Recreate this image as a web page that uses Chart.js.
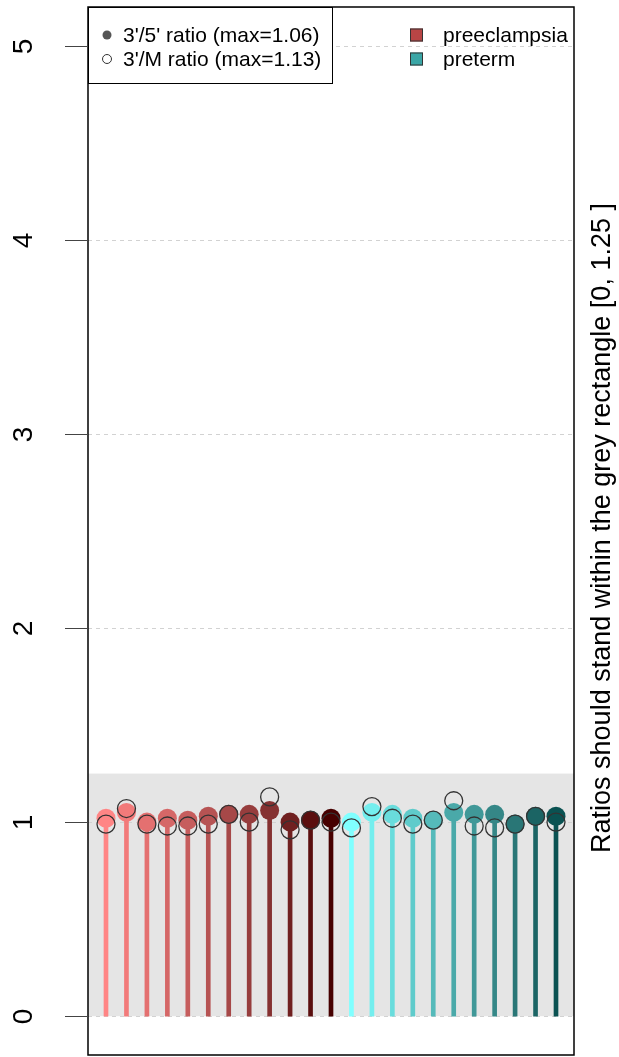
<!DOCTYPE html>
<html lang="en">
<head>
  <meta charset="UTF-8" />
  <title>Ratios</title>
  <script src="https://cdn.jsdelivr.net/npm/chart.js"></script>
  <style>
    body { margin: 0; padding: 0; background: #ffffff; }
    canvas { display: block; }
  </style>
</head>
<body>
  <canvas id="ratioChart" width="619" height="1057"></canvas>

  <script>
    // data
    const groups = ['preeclampsia', 'preeclampsia', 'preeclampsia', 'preeclampsia', 'preeclampsia', 'preeclampsia',
                    'preeclampsia', 'preeclampsia', 'preeclampsia', 'preeclampsia', 'preeclampsia', 'preeclampsia',
                    'preterm', 'preterm', 'preterm', 'preterm', 'preterm', 'preterm',
                    'preterm', 'preterm', 'preterm', 'preterm', 'preterm'];
    const ratio35 = [1.02, 1.05, 1.00, 1.02, 1.01, 1.03, 1.04, 1.04, 1.06, 1.00, 1.01, 1.02,
                     1.00, 1.05, 1.04, 1.02, 1.01, 1.05, 1.04, 1.04, 0.99, 1.03, 1.03];
    const ratioM  = [0.99, 1.07, 0.99, 0.98, 0.98, 0.99, 1.04, 1.00, 1.13, 0.96, 1.01, 1.00,
                     0.97, 1.08, 1.02, 0.99, 1.01, 1.11, 0.98, 0.97, 0.99, 1.03, 1.00];
    const yTicks = [0, 1, 2, 3, 4, 5];
    const rectTop = 1.25;

    // colours
    const redRamp = ['#ff8585', '#f27a7a', '#e47070', '#d56767', '#c65d5d', '#b65353',
                     '#a64848', '#963d3d', '#853131', '#702020', '#5b0f0f', '#470000'];
    const tealRamp = ['#80ffff', '#74eeee', '#69dcdc', '#5fcbcb', '#55baba', '#4aa9a9',
                      '#409898', '#358787', '#297676', '#1b6464', '#0a5252'];
    const groupColor = { preeclampsia: '#b84545', preterm: '#3aa6a6' };
    const font = '"Liberation Sans", Arial, sans-serif';

    let ri = 0, ti = 0;
    const colors = groups.map(g => g === 'preeclampsia' ? redRamp[ri++] : tealRamp[ti++]);

    const idx = ratio35.map((v, i) => i + 1);

    const deco = {
      id: 'deco',
      beforeDatasetsDraw(chart) {
        const { ctx, chartArea: a, scales: { y } } = chart;
        ctx.save();
        const top = y.getPixelForValue(rectTop), bot = y.getPixelForValue(0);
        ctx.fillStyle = '#e5e5e5';
        ctx.fillRect(a.left, top, a.right - a.left, bot - top);
        ctx.strokeStyle = '#d2d2d2';
        ctx.lineWidth = 1;
        ctx.setLineDash([4, 4]);
        yTicks.forEach(v => {
          const py = Math.round(y.getPixelForValue(v)) + 0.5;
          ctx.beginPath();
          ctx.moveTo(a.left, py);
          ctx.lineTo(a.right, py);
          ctx.stroke();
        });
        ctx.restore();
      },
      afterDraw(chart) {
        const { ctx, chartArea: a, scales: { y } } = chart;
        ctx.save();
        // box
        ctx.strokeStyle = '#000';
        ctx.lineWidth = 1.5;
        ctx.strokeRect(a.left, a.top, a.right - a.left, a.bottom - a.top);

        // y axis ticks + rotated labels
        ctx.lineWidth = 1;
        ctx.strokeStyle = '#444';
        ctx.fillStyle = '#000';
        ctx.font = '28px ' + font;
        ctx.textAlign = 'center';
        ctx.textBaseline = 'middle';
        yTicks.forEach(v => {
          const py = Math.round(y.getPixelForValue(v)) + 0.5;
          ctx.beginPath();
          ctx.moveTo(a.left - 23, py);
          ctx.lineTo(a.left, py);
          ctx.stroke();
          ctx.save();
          ctx.translate(24, py);
          ctx.rotate(-Math.PI / 2);
          ctx.fillText(String(v), 0, 0);
          ctx.restore();
        });

        // right side title
        ctx.save();
        ctx.font = '27px ' + font;
        ctx.translate(603, (a.top + a.bottom) / 2 - 3);
        ctx.rotate(-Math.PI / 2);
        ctx.fillText('Ratios should stand within the grey rectangle [0, 1.25 ]', 0, 0);
        ctx.restore();

        // legend box (points)
        const lx = a.left, ly = a.top;
        ctx.fillStyle = '#fff';
        ctx.fillRect(lx, ly, 244, 76);
        ctx.strokeStyle = '#000';
        ctx.lineWidth = 1;
        ctx.strokeRect(lx + 0.5, ly + 0.5, 244, 76);
        ctx.font = '21px ' + font;
        ctx.textAlign = 'left';
        ctx.fillStyle = '#555';
        ctx.beginPath();
        ctx.arc(lx + 19, ly + 28, 4.5, 0, Math.PI * 2);
        ctx.fill();
        ctx.strokeStyle = '#333';
        ctx.beginPath();
        ctx.arc(lx + 19, ly + 52, 4.5, 0, Math.PI * 2);
        ctx.stroke();
        ctx.fillStyle = '#000';
        ctx.fillText("3'/5' ratio (max=" + Math.max(...ratio35).toFixed(2) + ')', lx + 35, ly + 29);
        ctx.fillText("3'/M ratio (max=" + Math.max(...ratioM).toFixed(2) + ')', lx + 35, ly + 53);

        // legend (groups)
        ['preeclampsia', 'preterm'].forEach((g, k) => {
          const cy = ly + 28 + k * 24;
          ctx.fillStyle = groupColor[g];
          ctx.fillRect(410, cy - 6.5, 13, 13);
          ctx.strokeStyle = '#333';
          ctx.strokeRect(410.5, cy - 6, 12, 12);
          ctx.fillStyle = '#000';
          ctx.fillText(g, 443, cy + 1);
        });
        ctx.restore();
      }
    };

    const ctx = document.getElementById('ratioChart').getContext('2d');
    new Chart(ctx, {
      type: 'scatter',
      data: {
        datasets: [
          {
            type: 'bar',
            data: idx.map((x, i) => ({ x: x, y: ratio35[i] })),
            backgroundColor: colors,
            barThickness: 4,
            order: 3
          },
          {
            data: idx.map((x, i) => ({ x: x, y: ratio35[i] })),
            backgroundColor: colors,
            borderWidth: 0,
            pointRadius: 9.5,
            order: 2
          },
          {
            data: idx.map((x, i) => ({ x: x, y: ratioM[i] })),
            backgroundColor: 'rgba(0,0,0,0)',
            borderColor: '#333',
            borderWidth: 1.3,
            pointRadius: 9,
            order: 1
          }
        ]
      },
      options: {
        responsive: false,
        devicePixelRatio: 1,
        animation: false,
        layout: { autoPadding: false, padding: { left: 88, right: 45, top: 7, bottom: 2 } },
        scales: {
          x: { type: 'linear', min: 0.12, max: 23.88, offset: false, display: false },
          y: { min: -0.2, max: 5.2, display: false }
        },
        plugins: {
          legend: { display: false },
          tooltip: { enabled: false }
        }
      },
      plugins: [deco]
    });
  </script>
</body>
</html>
